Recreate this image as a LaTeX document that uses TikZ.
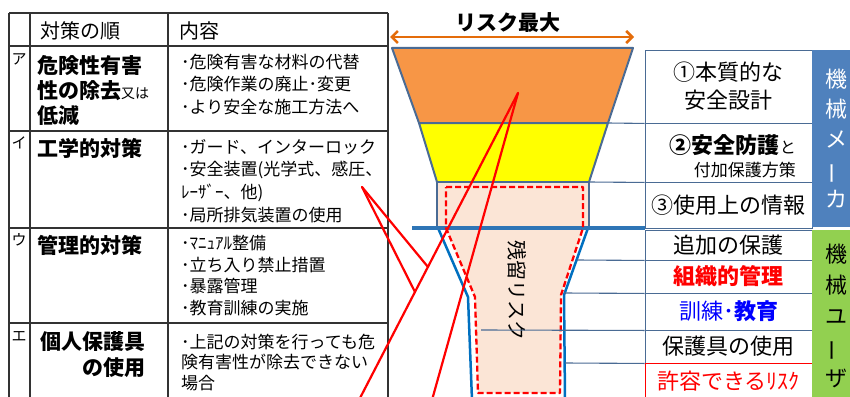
\documentclass[tikz,border=0pt]{standalone}
\usepackage{fontspec}
\usepackage{graphicx}
\setmainfont{Noto Sans CJK JP}
\usetikzlibrary{arrows.meta}
\newcommand\fsz[2]{\fontsize{#1}{#2}\selectfont}
\definecolor{orangefill}{HTML}{F79646}
\definecolor{yellowfill}{HTML}{FFFF00}
\definecolor{beige}{HTML}{FBE5D6}
\definecolor{outlineblue}{HTML}{4A6B94}
\definecolor{lineblue}{HTML}{0070C0}
\definecolor{thickblue}{HTML}{2E75B6}
\definecolor{arroworange}{HTML}{E46C0A}
\definecolor{makerblue}{HTML}{4F81BD}
\definecolor{usergreen}{HTML}{92D050}
\definecolor{tblgray}{HTML}{333333}
\definecolor{textblue}{HTML}{0000FF}
\definecolor{pureRed}{HTML}{FF0000}
\begin{document}
\begin{tikzpicture}[x=1pt,y=-1pt,
  tbl/.style={draw=tblgray, line width=1.3pt},
  lbl/.style={inner sep=0pt, font=\fsz{15}{15}},
  hd/.style={inner sep=0pt, anchor=west, font=\fsz{20}{20}},
  ttl/.style={inner sep=0pt, anchor=west, align=left, font=\bfseries\fsz{21}{25}},
  cnt/.style={inner sep=0pt, anchor=west, align=left, font=\fsz{17}{22.5}},
  rbox/.style={draw=outlineblue, line width=0.9pt, fill=white, inner sep=0pt, align=center, minimum width=167pt, font=\fsz{22}{28}},
  thinline/.style={draw=outlineblue, line width=1.1pt},
  redline/.style={draw=pureRed, line width=2.2pt, line cap=round},
  bartext/.style={inner sep=0pt, align=center, font=\fsz{22}{30}}
]
\useasboundingbox (0,0) rectangle (850,396);
\clip (0,0) rectangle (850,396);
\fill[white] (0,0) rectangle (850,396);

% ---------- table ----------
\foreach \yy in {13,46,131,228,323} \draw[tbl] (9,\yy) -- (388,\yy);
\foreach \xx in {9,30,168,388} \draw[tbl] (\xx,13) -- (\xx,400);

\node[lbl] (la) at (19,59) {ア};
\node[lbl] (li) at (19,143) {イ};
\node[lbl] (lu) at (19,240) {ウ};
\node[lbl] (le) at (19,336) {エ};

\node[hd] (h1) at (40,31) {対策の順};
\node[hd] (h2) at (179,31) {内容};

\node[ttl] (ta) at (37,90) {危険性有害\\性の除去{\mdseries\fsz{14}{14}又は}\\低減};
\node[ttl] (ti) at (37,148) {工学的対策};
\node[ttl] (tu) at (37,245) {管理的対策};
\node[ttl, align=right, anchor=east, font=\bfseries\fsz{21}{26}] (te) at (146,355) {個人保護具\\の使用};

\node[cnt] (ca) at (181,84.5) {･危険有害な材料の代替\\･危険作業の廃止･変更\\･より安全な施工方法へ};
\node[cnt, font=\fsz{17}{22.7}] (ci) at (181,181) {･ガード、インターロック\\･安全装置(光学式、感圧、\\ﾚｰｻﾞｰ、他)\\･局所排気装置の使用};
\node[cnt, font=\fsz{17}{21.7}] (cu) at (181,275.5) {･ﾏﾆｭｱﾙ整備\\･立ち入り禁止措置\\･暴露管理\\･教育訓練の実施};
\node[cnt, font=\fsz{17}{20.5}] (ce) at (181,362.5) {･上記の対策を行っても危\\険有害性が除去できない\\場合};

% ---------- funnel ----------
\node[inner sep=0pt, font=\bfseries\fsz{21}{21}] (title) at (508,23) {リスク最大};
\coordinate (arL) at (390,37);
\coordinate (arR) at (634,37);
\draw[arroworange, line width=2.5pt, {Straight Barb[length=6pt,width=12pt]}-{Straight Barb[length=6pt,width=12pt]}] (arL) -- (arR);

\filldraw[fill=orangefill, draw=outlineblue, line width=2pt, line join=round]
  (392,48) -- (633,48) -- (608,123) -- (419,123) -- cycle;
\filldraw[fill=yellowfill, draw=outlineblue, line width=2pt, line join=round]
  (419,123) -- (608,123) -- (589,182) -- (437,182) -- cycle;
\filldraw[fill=beige, draw=outlineblue, line width=2pt]
  (437,182) rectangle (589,228);

% residual risk region
\fill[beige] (446,187) -- (583,187) -- (583,228) -- (561,295) -- (560,393)
  -- (478,393) -- (475,297) -- (446,228) -- cycle;
\draw[lineblue, line width=2.5pt, line join=round] (438,228) -- (468,297) -- (472,400);
\draw[lineblue, line width=2.5pt, line join=round] (588,228) -- (564,295) -- (565,400);
\draw[thickblue, line width=4pt] (412,228) -- (645,228);
\draw[pureRed, line width=2.3pt, dash pattern=on 6pt off 3pt, line join=round]
  (446,187) -- (583,187) -- (583,228) -- (561,295) -- (560,393)
  -- (478,393) -- (475,297) -- (446,228) -- cycle;
\node[inner sep=0pt, rotate=-90, font=\fsz{20}{20}] (resid) at (517,290) {残留リスク};

% ---------- right boxes ----------
\node[rbox, minimum height=73pt] (b1) at (728.5,86.5) {①本質的な\\安全設計};
\node[rbox, minimum height=59pt] (b2) at (728.5,152.5) {};
\node[inner sep=0pt, align=right, anchor=east, font=\fsz{22}{23}] (b2t) at (796,156)
  {{\bfseries ②安全防護}{\fsz{16}{16}と}\\{\fsz{17}{17}付加保護方策}};
\node[rbox, minimum height=46pt] (b3) at (728.5,205) {③使用上の情報};
\node[rbox, minimum height=30pt] (b4) at (728.5,245) {追加の保護};
\node[rbox, minimum height=33pt, text=pureRed, font=\bfseries\fsz{22}{22}] (b5) at (728.5,276.5) {組織的管理};
\node[rbox, minimum height=37pt, text=textblue] (b6) at (728.5,311.5) {訓練･{\bfseries 教育}};
\node[rbox, minimum height=33pt] (b7) at (728.5,346.5) {保護具の使用};
\node[rbox, minimum height=37pt, draw=pureRed, text=pureRed] (b8) at (728.5,381.5) {許容できるﾘｽｸ};

% connector lines funnel -> boxes
\coordinate (f1) at (608,123);
\coordinate (f2) at (589,182);
\coordinate (f4) at (577,260);
\coordinate (f5) at (564,293);
\coordinate (f6) at (481,330);
\coordinate (f7) at (565,363);
\draw[thinline] (f1) -- (b1.south west);
\draw[thinline] (f2) -- (b2.south west);
\draw[thinline] (f4) -- (b4.south west);
\draw[thinline] (f5) -- (b5.south west);
\draw[thinline] (f6) -- (b6.south west);
\draw[thinline] (f7) -- (b7.south west);

% side bars
\fill[makerblue] (812,50) rectangle (860,227);
\fill[usergreen] (812,230) rectangle (860,400);
\node[bartext, text=white] (maker) at (836,139)
  {機\\械\\メ\\\rotatebox[origin=c]{90}{ー}\\カ};
\node[bartext, font=\fsz{22}{31}] (user) at (836,315.5)
  {機\\械\\ユ\\\rotatebox[origin=c]{90}{ー}\\ザ};

% ---------- red pointer lines ----------
\coordinate (apex) at (518,93);
\coordinate (e1) at (359,400);
\coordinate (e2) at (432,400);
\coordinate (ptr) at (362,187);
\coordinate (m1) at (428,267);
\coordinate (m2) at (415,292);
\draw[redline] (apex) -- (e1);
\draw[redline] (apex) -- (e2);
\draw[redline] (ptr) -- (m1);
\draw[redline] (ptr) -- (m2);
\end{tikzpicture}
\end{document}
